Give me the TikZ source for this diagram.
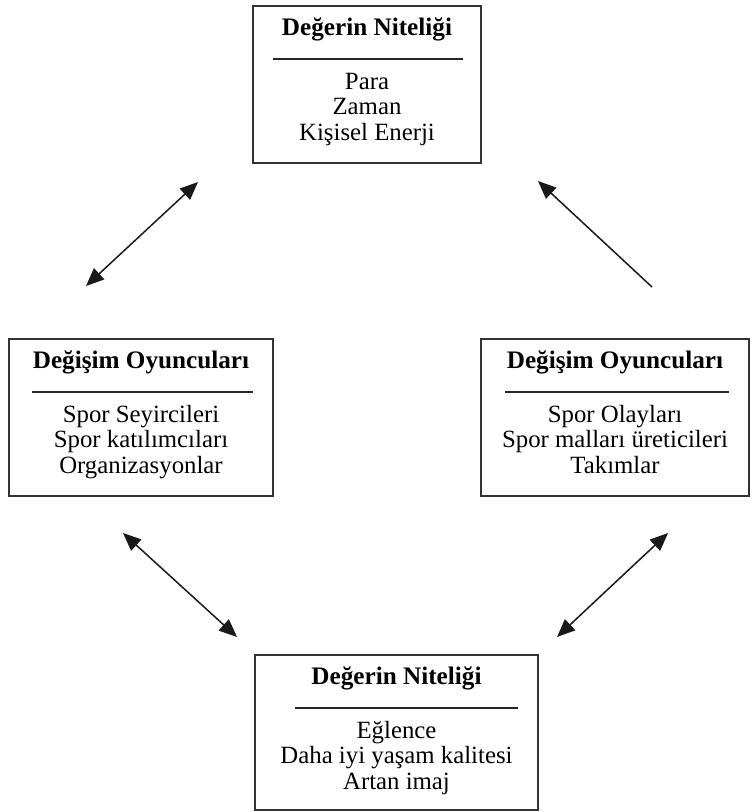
\documentclass[tikz,border=0pt]{standalone}
\usepackage{fontspec}
\setmainfont{Liberation Serif}
\usetikzlibrary{arrows.meta}
\begin{document}
\begin{tikzpicture}[x=1pt,y=-1pt,
  box/.style={draw=black!80, line width=1.5pt, inner sep=0pt, minimum height=157pt},
  ttl/.style={anchor=base, inner sep=0pt, font=\fontsize{25.2}{25.5}\selectfont\bfseries},
  txt/.style={anchor=base, inner sep=0pt, font=\fontsize{24.8}{25.5}\selectfont},
  rulel/.style={draw=black!85, line width=1.4pt},
  conn/.style={draw=black!90, line width=1.5pt},
  tip/.tip={Triangle[length=18pt,width=15pt]}]
\useasboundingbox (0,0) rectangle (755,812);

% top box
\node[box, minimum width=228pt] (topb) at (367,84.5) {};
\node[ttl] (topt) at (367,35) {Değerin Niteliği};
\coordinate (topl) at (273,59); \coordinate (topr) at (463,59);
\draw[rulel] (topl) -- (topr);
\node[txt] (top1) at (367,89) {Para};
\node[txt] (top2) at (367,114.5) {Zaman};
\node[txt] (top3) at (367,140) {Kişisel Enerji};

% left box
\node[box, minimum width=264pt] (leftb) at (141,417.5) {};
\node[ttl] (leftt) at (141,368) {Değişim Oyuncuları};
\coordinate (leftl) at (32,392); \coordinate (leftr) at (253,392);
\draw[rulel] (leftl) -- (leftr);
\node[txt] (left1) at (141,422) {Spor Seyircileri};
\node[txt] (left2) at (141,447.5) {Spor katılımcıları};
\node[txt] (left3) at (141,473) {Organizasyonlar};

% right box
\node[box, minimum width=268pt] (rightb) at (615,417.5) {};
\node[ttl] (rightt) at (615,368) {Değişim Oyuncuları};
\coordinate (rightl) at (505,392); \coordinate (rightr) at (729,392);
\draw[rulel] (rightl) -- (rightr);
\node[txt] (right1) at (615,422) {Spor Olayları};
\node[txt] (right2) at (615,447.5) {Spor malları üreticileri};
\node[txt] (right3) at (615,473) {Takımlar};

% bottom box
\node[box, minimum width=283pt, minimum height=155pt] (botb) at (396.5,732.5) {};
\node[ttl] (bott) at (396.5,684) {Değerin Niteliği};
\coordinate (botl) at (295,708); \coordinate (botr) at (518,708);
\draw[rulel] (botl) -- (botr);
\node[txt] (bot1) at (396.5,738) {Eğlence};
\node[txt] (bot2) at (396.5,763.5) {Daha iyi yaşam kalitesi};
\node[txt] (bot3) at (396.5,789) {Artan imaj};

% arrows
\coordinate (a1s) at (86,286);  \coordinate (a1e) at (198,182);
\coordinate (a2s) at (652,287); \coordinate (a2e) at (538,181);
\coordinate (a3s) at (123,533); \coordinate (a3e) at (237,637);
\coordinate (a4s) at (668,533); \coordinate (a4e) at (557,637);
\draw[conn, {tip}-{tip}] (a1s) -- (a1e);
\draw[conn, -{tip}] (a2s) -- (a2e);
\draw[conn, {tip}-{tip}] (a3s) -- (a3e);
\draw[conn, {tip}-{tip}] (a4s) -- (a4e);
\end{tikzpicture}
\end{document}
